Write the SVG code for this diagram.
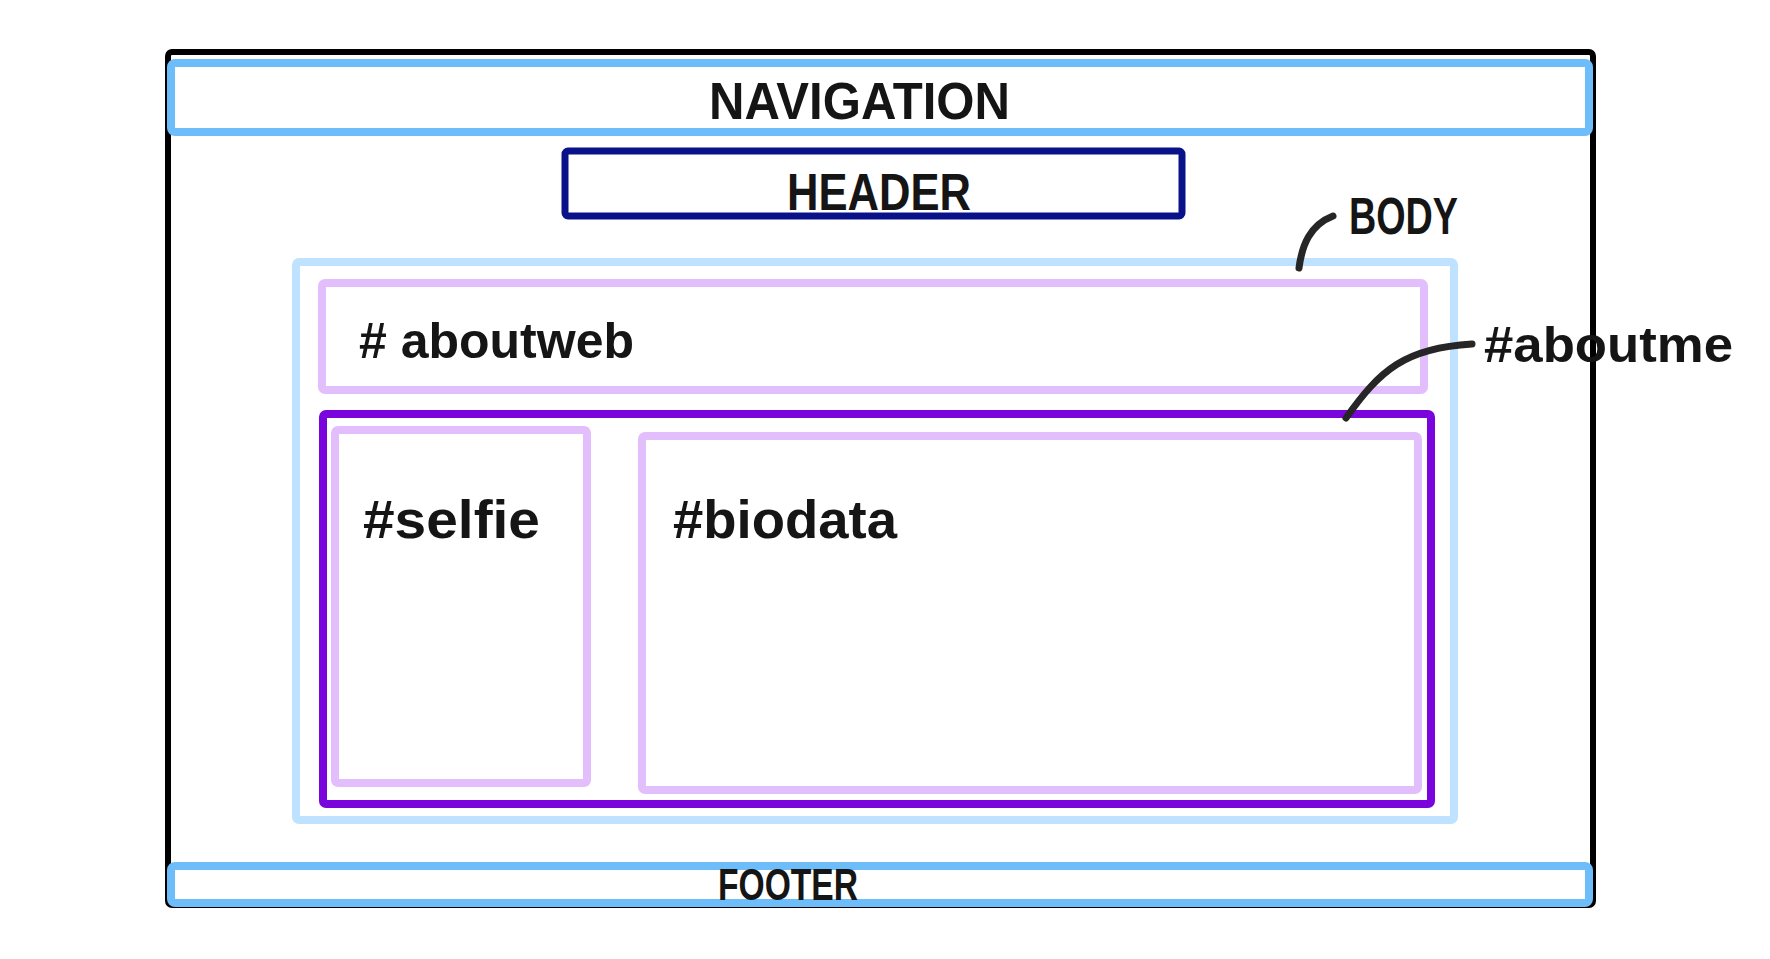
<svg xmlns="http://www.w3.org/2000/svg" width="1770" height="959" viewBox="0 0 1770 959">
<style>
.box{fill:none;stroke-linejoin:round;}
.lbl{font-family:"Liberation Sans",Arial,sans-serif;font-weight:bold;fill:#151515;}
.conn{fill:none;stroke:#262626;stroke-width:7;stroke-linecap:round;}
</style>
<rect width="1770" height="959" fill="#ffffff"/>
<g id="page"><rect class="box" x="168" y="52" width="1425" height="853" rx="4" stroke="#000000" stroke-width="6"/></g>
<g id="navigation">
<rect class="box" x="171" y="63" width="1418" height="69" rx="4" stroke="#6EBDFB" stroke-width="8"/>
<text class="lbl" x="709" y="119" font-size="52" textLength="301" lengthAdjust="spacingAndGlyphs">NAVIGATION</text>
</g>
<g id="header">
<rect class="box" x="565" y="151" width="617" height="65" rx="3" stroke="#0A128A" stroke-width="7"/>
<text class="lbl" x="787" y="210" font-size="52" textLength="184" lengthAdjust="spacingAndGlyphs">HEADER</text>
</g>
<g id="body">
<rect class="box" x="296" y="262" width="1158" height="558" rx="3" stroke="#BEE2FF" stroke-width="8"/>
<text class="lbl" x="1349" y="234" font-size="52" textLength="109" lengthAdjust="spacingAndGlyphs">BODY</text>
</g>
<g id="aboutweb">
<rect class="box" x="322" y="283" width="1102" height="107" rx="3" stroke="#E3BEFC" stroke-width="8"/>
<text class="lbl" x="359" y="358" font-size="50" textLength="275" lengthAdjust="spacingAndGlyphs"># aboutweb</text>
</g>
<g id="aboutme">
<rect class="box" x="323" y="414" width="1108" height="390" rx="3" stroke="#7A05DC" stroke-width="8"/>
<text class="lbl" x="1484" y="362" font-size="50" textLength="249" lengthAdjust="spacingAndGlyphs">#aboutme</text>
</g>
<g id="selfie">
<rect class="box" x="335" y="430" width="252" height="353" rx="3" stroke="#E3BEFC" stroke-width="8"/>
<text class="lbl" x="363" y="538" font-size="54" textLength="177" lengthAdjust="spacingAndGlyphs">#selfie</text>
</g>
<g id="biodata">
<rect class="box" x="642" y="436" width="776" height="354" rx="3" stroke="#E3BEFC" stroke-width="8"/>
<text class="lbl" x="673" y="538" font-size="54" textLength="224" lengthAdjust="spacingAndGlyphs">#biodata</text>
</g>
<g id="footer">
<rect class="box" x="171" y="866" width="1418" height="37" rx="4" stroke="#6EBDFB" stroke-width="8"/>
<text class="lbl" x="718" y="900" font-size="44" textLength="140" lengthAdjust="spacingAndGlyphs">FOOTER</text>
</g>
<g id="connectors">
<path class="conn" d="M1299,268 C1302,245 1310,225 1333,216"/>
<path class="conn" d="M1346,418 C1380,370 1405,348 1472,344"/>
</g>
</svg>
